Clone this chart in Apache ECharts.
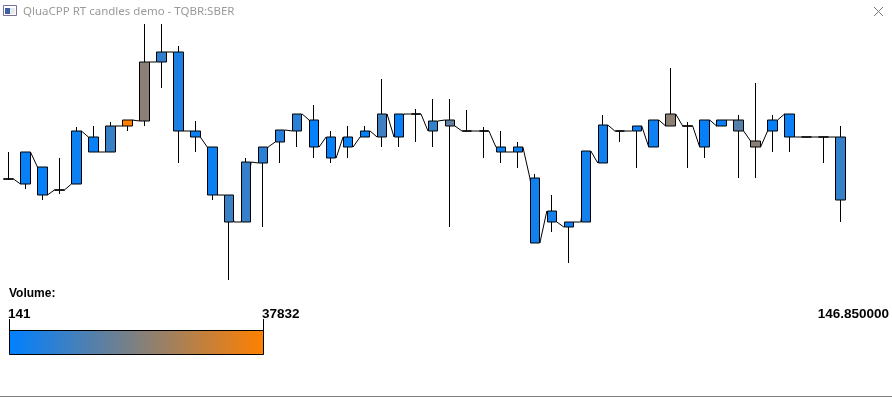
<!DOCTYPE html>
<html><head><meta charset="utf-8">
<script src="https://cdn.jsdelivr.net/npm/echarts@6/dist/echarts.min.js"></script>
<style>html,body{margin:0;padding:0;background:#fff;}#c{width:892px;height:397px;}</style>
</head><body><div id="c"></div>
<script>
const windowTitle = 'QluaCPP RT candles demo - TQBR:SBER';
const volumeLabel = 'Volume:';

const opens  = [147.06,147.01,147.18,146.95,147.01,147.48,147.33,147.59,147.64,148.23,
                148.33,147.54,147.38,146.90,146.63,147.22,147.43,147.54,147.65,147.48,
                147.48,147.48,147.48,147.48,147.71,147.54,147.65,147.54,147.54,147.38,
                147.33,147.07,146.74,146.58,146.63,147.22,147.54,147.54,147.38,147.59,
                147.59,147.38,147.59,147.65,147.44,147.54,147.71,147.48,147.48,147.48];
const closes = [147.06,147.33,146.90,146.95,147.54,147.33,147.59,147.65,148.23,148.33,
                147.54,147.48,146.90,146.63,147.23,147.38,147.55,147.71,147.38,147.27,
                147.38,147.54,147.71,147.71,147.71,147.64,147.59,147.54,147.54,147.33,
                147.38,146.42,146.63,146.63,147.34,147.60,147.54,147.59,147.65,147.71,
                147.59,147.65,147.65,147.54,147.38,147.65,147.48,147.48,147.48,146.85];
const lows   = [147.05,146.96,146.85,146.91,147.01,147.33,147.33,147.54,147.59,147.97,
                147.22,147.33,146.85,146.05,146.63,146.58,147.22,147.38,147.27,147.22,
                147.27,147.48,147.38,147.38,147.43,147.38,146.58,147.54,147.27,147.22,
                147.17,146.42,146.53,146.22,146.63,147.22,147.43,147.17,147.38,147.59,
                147.17,147.27,147.59,147.07,147.07,147.33,147.33,147.48,147.22,146.63];
const highs  = [147.33,147.33,147.18,147.27,147.58,147.59,147.63,147.65,148.61,148.61,
                148.39,147.64,147.38,146.90,147.27,147.38,147.55,147.71,147.80,147.54,
                147.59,147.59,148.06,147.71,147.76,147.86,147.86,147.75,147.58,147.54,
                147.43,147.11,146.90,146.63,147.34,147.70,147.54,147.59,147.65,148.17,
                147.63,147.65,147.65,147.70,148.02,147.70,147.71,147.48,147.48,147.59];
const volumes = [420,1350,980,560,2100,1200,8200,37832,20500,7600,
                 4300,1500,1900,8600,8100,6400,5700,6000,760,1100,
                 1650,890,9300,1250,141,7900,14200,310,470,1800,
                 1400,2600,3100,1700,2900,2400,230,1300,2200,20800,
                 380,1050,1450,12800,20100,990,1700,190,650,7800];

const LOW_COLOR = [0,128,255], HIGH_COLOR = [255,128,0];
const vMin = Math.min(...volumes), vMax = Math.max(...volumes);
function volColor(v){
  const t = (v - vMin) / (vMax - vMin);
  const c = LOW_COLOR.map((a,i)=>Math.round(a + (HIGH_COLOR[i]-a)*t));
  return 'rgb(' + c.join(',') + ')';
}
const N = opens.length;
const categories = opens.map((_, i) => String(i + 1));
const candleData = opens.map((o,i)=>{
  const col = volColor(volumes[i]);
  return {value:[o, closes[i], lows[i], highs[i]],
    itemStyle:{color:col, color0:col, borderColor:'#000', borderColor0:'#000', borderColorDoji:'#000', borderWidth:1}};
});
const HALF = 5/17;
const linePts = [];
opens.forEach((o,i)=>{ linePts.push([i-HALF, o]); linePts.push([i+HALF, closes[i]]); });

const chart = echarts.init(document.getElementById('c'), null, {renderer:'canvas'});
const lblFont = 'bold 13.5px "Liberation Sans", Arial, sans-serif';
chart.setOption({
  animation:false,
  backgroundColor:'#fff',
  grid:{left:-1, top:20, width:850, height:265},
  xAxis:[
    {type:'category', data:categories, show:false, boundaryGap:true},
    {type:'value', min:-0.5, max:N-0.5, show:false}
  ],
  yAxis:{type:'value', min:146.00, max:148.65, show:false},
  series:[
    {type:'line', xAxisIndex:1, data:linePts, symbol:'none', silent:true, z:1,
      lineStyle:{color:'#000', width:1}},
    {type:'candlestick', xAxisIndex:0, data:candleData, barWidth:10, z:2, silent:true}
  ],
  graphic:[
    {type:'rect', shape:{x:3.5,y:5.5,width:13,height:10}, style:{fill:'#fff', stroke:'#7d6f9c', lineWidth:1}},
    {type:'rect', shape:{x:5,y:8,width:5,height:6}, style:{fill:'#3d5f9f'}},
    {type:'rect', shape:{x:10,y:8,width:5,height:6}, style:{fill:'#e4e8f0'}},
    {type:'text', x:23, y:12, style:{text:windowTitle, fill:'#9a9a9a', font:'11.5px "Noto Sans", sans-serif', verticalAlign:'middle'}},
    {type:'line', shape:{x1:874,y1:7,x2:883,y2:16}, style:{stroke:'#777', lineWidth:1}},
    {type:'line', shape:{x1:883,y1:7,x2:874,y2:16}, style:{stroke:'#777', lineWidth:1}},
    {type:'text', x:9, y:288, style:{text:volumeLabel, fill:'#000', font:'bold 12px "Liberation Sans", Arial, sans-serif'}},
    {type:'text', x:8, y:307, style:{text:String(vMin), fill:'#000', font:lblFont}},
    {type:'text', x:262, y:307, style:{text:String(vMax), fill:'#000', font:lblFont}},
    {type:'line', shape:{x1:9.5,y1:319,x2:9.5,y2:331}, style:{stroke:'#000', lineWidth:1}},
    {type:'line', shape:{x1:263.5,y1:319,x2:263.5,y2:331}, style:{stroke:'#000', lineWidth:1}},
    {type:'rect', shape:{x:9.5,y:330.5,width:254,height:24},
      style:{stroke:'#000', lineWidth:1, fill:new echarts.graphic.LinearGradient(0,0,1,0,[{offset:0,color:volColor(vMin)},{offset:1,color:volColor(vMax)}])}},
    {type:'text', x:889, y:307, style:{text:closes[N-1].toFixed(6), fill:'#000', font:lblFont, align:'right'}},
    {type:'line', shape:{x1:0,y1:396.5,x2:892,y2:396.5}, style:{stroke:'#808080', lineWidth:1}}
  ]
});
</script></body></html>
